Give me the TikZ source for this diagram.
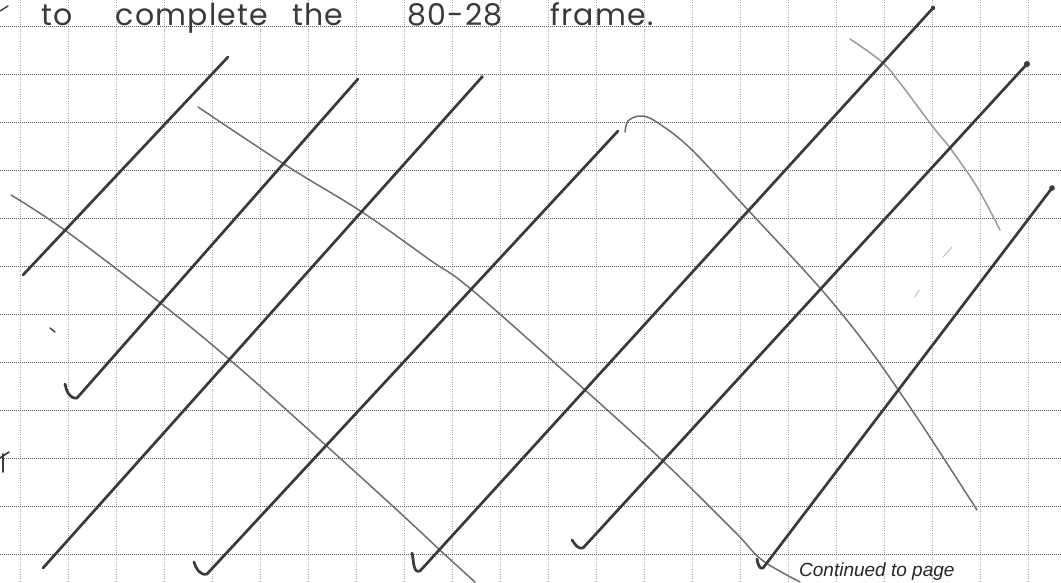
\documentclass[tikz,border=0pt]{standalone}
\usepackage{fontspec}
\usepackage{xcolor}
\usepackage{tikz}
\newfontfamily\handfont{Poppins}[LetterSpace=4]
\newfontfamily\printfont{Liberation Sans}
\definecolor{ink}{HTML}{3A3A3A}
\definecolor{lead}{HTML}{6E6E6E}
\definecolor{gridh}{HTML}{5C5C5C}
\definecolor{gridv}{HTML}{ABABAB}

\begin{document}
\begin{tikzpicture}[
  x=1pt, y=-1pt,
  hline/.style={gridh, line width=0.9pt, dash pattern=on 1.1pt off 0.9pt},
  vline/.style={gridv, line width=0.8pt, dash pattern=on 1pt off 1.4pt},
  pen/.style={ink, line width=2.7pt, line cap=round, line join=round},
  trace/.style={lead, line width=1.5pt, line cap=round, line join=round},
  faint/.style={gray!55, line width=0.9pt, line cap=round},
  hand/.style={font=\handfont\fontsize{30}{32}\selectfont, text=ink, anchor=base, inner sep=0pt},
  note/.style={font=\printfont\itshape\fontsize{19}{21}\selectfont, text=black!85, anchor=base west, inner sep=0pt}
]
\useasboundingbox (0,0) rectangle (1061,582);
\fill[white] (0,0) rectangle (1061,582);

% Squared paper
\foreach \gx in {20,68,...,1028}
  \draw[vline] (\gx,0) -- (\gx,582);
\foreach \gy in {26,74,...,554}
  \draw[hline] (0,\gy) -- (1061,\gy);

% Handwritten line
\foreach \w/\cx/\nm in {to/57/wto, complete/192/wcomplete, the/318/wthe, 80-28/455/wnum, frame./602/wframe}
  \node[hand, name=\nm] at (\cx,25) {\w};

% Light curves (upper left to lower right)
\draw[trace] plot[smooth, tension=0.6] coordinates {(11,195) (66,231) (163,305) (230,360) (300,422) (397,510) (442,552) (475,582)};
\draw[trace] plot[smooth, tension=0.6] coordinates {(198,107) (287,166) (362,212) (430,260) (472,290) (585,390) (665,463) (735,532) (762,560) (800,582)};
\draw[trace] plot[smooth, tension=0.55] coordinates {(625,132) (628,121) (640,116) (655,121) (690,148) (748,210) (820,288) (870,350) (920,422) (977,510)};
\draw[trace, lead!70] plot[smooth, tension=0.6] coordinates {(850,39) (882,62) (900,83) (933,127) (950,148) (977,187) (1000,230)};

% Long strokes (lower left to upper right)
\draw[pen] (23,275) -- (228,57);
\draw[pen] (65,384) to[out=-80,in=190] (77,398) -- (358,79);
\draw[pen] (43,568) -- (482,77);
\draw[pen] (194,562) to[out=-75,in=195] (207,574) -- (618,131);
\draw[pen] (412,553) to[out=-75,in=200] (420,571) -- (933,8);
\draw[pen] (572,540) to[out=-55,in=195] (583,548) -- (1027,64);
\draw[pen] (757,559) to[out=-80,in=205] (763,568) -- (1052,188);

% Ends of strokes
\fill[ink] (482,77) circle (1.8pt);
\fill[ink] (933,8) circle (2.2pt);
\fill[ink] (1027,64) circle (3pt);
\fill[ink] (1052,188) circle (2.8pt);

% Stray marks
\draw[pen, line width=1.4pt] (0,11) -- (8,6);
\draw[pen, line width=1.6pt] (0,458) -- (9,452);
\draw[pen, line width=1.6pt] (3,454) -- (3,472);
\draw[pen, line width=1.4pt] (50,328) -- (55,332);
\draw[faint] (943,257) -- (952,247);
\draw[faint] (915,297) -- (919,290);

% Printed footer
\node[note] (cont) at (799,576) {Continued to page};
\end{tikzpicture}
\end{document}
